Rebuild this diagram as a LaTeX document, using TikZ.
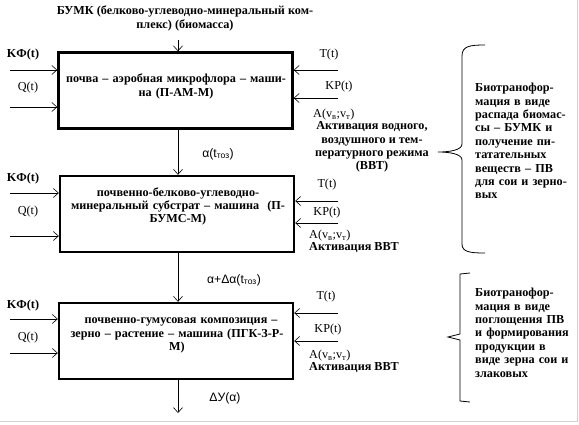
\documentclass[tikz,border=0pt]{standalone}
\usepackage{fontspec}
\setmainfont{Liberation Serif}
\newfontfamily\arialf{Liberation Sans}
\usetikzlibrary{arrows.meta}
\begin{document}
\begin{tikzpicture}[x=1pt,y=-1pt,
  every node/.style={inner sep=0pt,font=\fontsize{12.2}{13.4}\selectfont\rmfamily\bfseries},
  blockbox/.style={draw,line width=2.4pt,minimum width=234pt,minimum height=76pt,anchor=center},
  blocktext/.style={align=center,text width=232pt},
  arr/.style={line width=0.6pt,-{Straight Barb[length=5pt,width=9pt]}},
  lbl/.style={anchor=center},
  sidetext/.style={anchor=north west,align=left,text width=104pt},
  brace/.style={line width=0.8pt}]
\useasboundingbox (0,0) rectangle (579,424);
\draw[gray!35,line width=0.8pt] (577,0) -- (577,421) -- (0,421);

% top text
\node[align=center] (top) at (185,18.5) {БУМК (белково-углеводно-минеральный ком-\\плекс) (биомасса)};

% boxes
\node[blockbox] (b1) at (175.5,90.5) {};
\node[blockbox] (b2) at (177,214) {};
\node[blockbox] (b3) at (176,341) {};
\node[blocktext] (t1) at (176,86.5) {почва – аэробная микрофлора – маши-\\на (П-АМ-М)};
\node[blocktext] (t2) at (178,206.5) {почвенно-белково-углеводно-\\минеральный субстрат – машина\ \ (П-\\БУМС-М)};
\node[blocktext] (t3) at (177,335.5) {\ \ почвенно-гумусовая композиция –\\зерно – растение – машина (ПГК-З-Р-\\М)};

% vertical flow
\coordinate (vx) at (178,0);
\coordinate (topin) at (178,40);
\coordinate (botout) at (178,413);
\draw[arr] (topin) -- (b1.north -| vx);
\draw[arr] (b1.south -| vx) -- (b2.north -| vx);
\draw[arr] (b2.south -| vx) -- (b3.north -| vx);
\draw[arr] (b3.south -| vx) -- (botout);
\node[lbl] (s1) at (218,154) {\arialf\mdseries α(t\textsubscript{тоз})};
\node[lbl] (s2) at (234,280) {\arialf\mdseries α+Δα(t\textsubscript{тоз})};
\node[lbl] (s3) at (225,398) {\arialf\mdseries ΔУ(α)};

% left inputs
\foreach \b/\ya/\yb/\la/\lb in {b1/70/107/55/88, b2/193/236/179/212, b3/319/353/306/338}{
  \coordinate (kf-\b) at (10,\ya);
  \coordinate (q-\b) at (10,\yb);
  \draw[arr] (kf-\b) -- (kf-\b -| \b.west);
  \draw[arr] (q-\b) -- (q-\b -| \b.west);
  \node[lbl] (kfl-\b) at (23,\la) {KФ(t)};
  \node[lbl,font=\fontsize{12.2}{13.4}\selectfont\rmfamily] (ql-\b) at (28,\lb) {Q(t)};
}

% right inputs
\foreach \b/\ya/\yb in {b1/70/98, b2/201/223, b3/313/341}{
  \coordinate (tt-\b) at (338,\ya);
  \coordinate (kp-\b) at (338,\yb);
  \draw[arr] (tt-\b) -- (tt-\b -| \b.east);
  \draw[arr] (kp-\b) -- (kp-\b -| \b.east);
}
\tikzset{thin/.style={font=\fontsize{12.2}{13.4}\selectfont\rmfamily}}
\node[lbl,thin] (tl1) at (329,55) {T(t)};
\node[lbl,thin] (kpl1) at (339,87) {KP(t)};
\node[anchor=west,thin] (al1) at (313,115) {A(v\textsubscript{в};v\textsubscript{т})};
\node[align=center] (act1) at (372,147) {Активация водного,\\воздушного и тем-\\пературного режима\\(ВВТ)};

\node[lbl,thin] (tl2) at (327,185) {T(t)};
\node[lbl,thin] (kpl2) at (327,213) {KP(t)};
\node[anchor=west,thin] (al2) at (309,236) {A(v\textsubscript{в};v\textsubscript{т})};
\node[anchor=west] (act2) at (309,248) {Активация ВВТ};

\node[lbl,thin] (tl3) at (326,297) {T(t)};
\node[lbl,thin] (kpl3) at (328,330) {KP(t)};
\node[anchor=west,thin] (al3) at (309,356) {A(v\textsubscript{в};v\textsubscript{т})};
\node[anchor=west] (act3) at (309,368) {Активация ВВТ};

% braces
\draw[brace] (485,45) .. controls (470,45) and (462,46) .. (462,56)
  -- (462,144) .. controls (462,150) and (450,152) .. (438,152)
  .. controls (450,152) and (462,154) .. (462,160)
  -- (462,244) .. controls (462,252) and (470,253) .. (485,253);
\draw[brace] (470,273) -- (460,274) -- (460,334) -- (448,337) -- (460,340) -- (460,401) -- (470,402);

\node[sidetext] (r1) at (475,83) {Биотранофор-\\мация в виде\\распада биомас-\\сы – БУМК и\\получение пи-\\татательных\\веществ – ПВ\\для сои и зерно-\\вых};
\node[sidetext] (r2) at (475,288) {Биотранофор-\\мация в виде\\поглощения ПВ\\и формирования\\продукции в\\виде зерна сои и\\злаковых};
\end{tikzpicture}
\end{document}
